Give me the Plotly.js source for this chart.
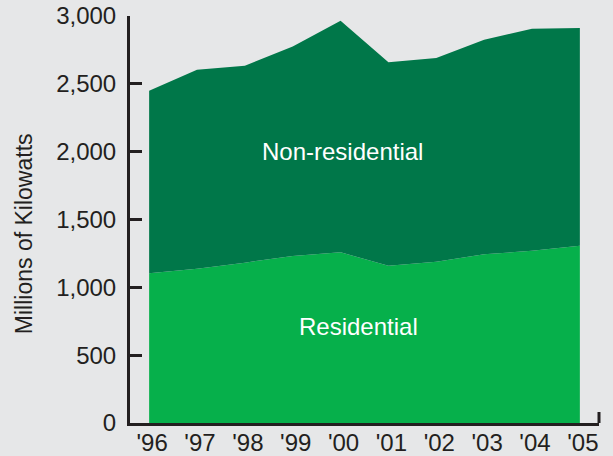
<!DOCTYPE html>
<html>
<head>
<meta charset="utf-8">
<script src="https://cdn.plot.ly/plotly-3.0.1.min.js"></script>
<style>
html,body{margin:0;padding:0;background:#E6E7E8;}
#chart{width:613px;height:456px;}
</style>
</head>
<body>
<div id="chart"></div>
<script>
var years = [1996, 1997, 1998, 1999, 2000, 2001, 2002, 2003, 2004, 2005];
var yearLabels = ["'96", "'97", "'98", "'99", "'00", "'01", "'02", "'03", "'04", "'05"];
var residential = [1103, 1137, 1182, 1231, 1258, 1159, 1189, 1243, 1270, 1307];
var nonResidential = [1346, 1467, 1451, 1545, 1707, 1501, 1501, 1582, 1636, 1604];
var yTicks = [0, 500, 1000, 1500, 2000, 2500, 3000];

var fam = 'Liberation Sans, Arial, sans-serif';
var font = {family: fam, size: 24, color: '#231F20'};

var traces = [
  {x: years, y: residential, type: 'scatter', mode: 'lines', stackgroup: 'one',
   line: {width: 0, color: '#06B04B'}, fillcolor: '#06B04B', hoverinfo: 'skip', name: 'Residential'},
  {x: years, y: nonResidential, type: 'scatter', mode: 'lines', stackgroup: 'one',
   line: {width: 0, color: '#007749'}, fillcolor: '#007749', hoverinfo: 'skip', name: 'Non-residential'}
];

var layout = {
  width: 613, height: 456,
  margin: {l: 130, r: 14, t: 16, b: 33},
  paper_bgcolor: '#E6E7E8',
  plot_bgcolor: '#E6E7E8',
  showlegend: false,
  font: font,
  xaxis: {
    range: [1995.6, 2005.4],
    tickvals: years, ticktext: yearLabels,
    showgrid: false, zeroline: false,
    showline: true, linecolor: '#231F20', linewidth: 3,
    ticks: '', ticklabelstandoff: -4, ticklabelshift: 3,
    layer: 'below traces',
    tickfont: font
  },
  yaxis: {
    range: [0, 3000],
    tickvals: yTicks, tickformat: ',d',
    showgrid: false, zeroline: false,
    showline: true, linecolor: '#231F20', linewidth: 3,
    ticks: 'inside', ticklen: 12, tickwidth: 3, tickcolor: '#231F20',
    ticklabelstandoff: 6,
    tickfont: font
  },
  shapes: [
    {type: 'line', xref: 'paper', yref: 'paper', x0: 1, x1: 1, y0: 0, y1: 0.027,
     line: {color: '#231F20', width: 3}}
  ],
  annotations: [
    {xref: 'paper', yref: 'paper', x: 0, y: 0.464, xshift: -106, textangle: -90,
     xanchor: 'center', yanchor: 'middle',
     text: 'Millions of Kilowatts', showarrow: false,
     font: {family: fam, size: 23, color: '#231F20'}},
    {x: 2000.05, y: 2000, xref: 'x', yref: 'y', text: 'Non-residential', showarrow: false,
     font: {family: fam, size: 24, color: '#FFFFFF'}},
    {x: 2000.38, y: 710, xref: 'x', yref: 'y', text: 'Residential', showarrow: false,
     font: {family: fam, size: 24, color: '#FFFFFF'}}
  ]
};

Plotly.newPlot('chart', traces, layout, {displayModeBar: false, staticPlot: true});
</script>
</body>
</html>
